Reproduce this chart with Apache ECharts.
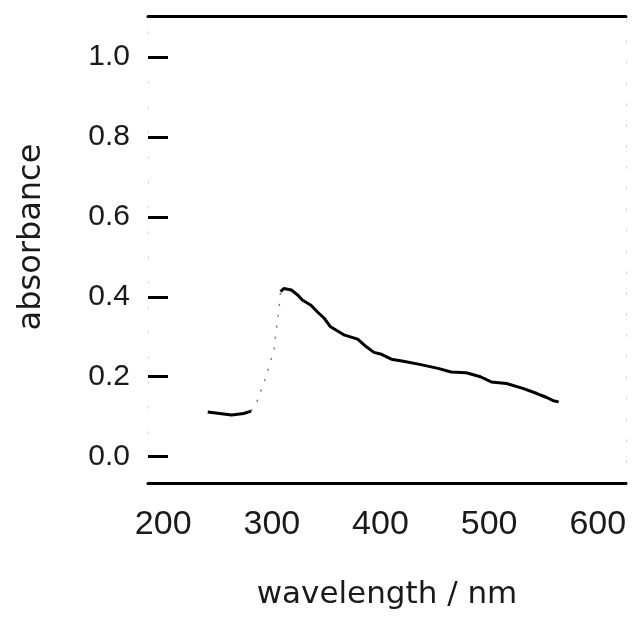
<!DOCTYPE html>
<html>
<head>
<meta charset="utf-8">
<script src="https://cdn.jsdelivr.net/npm/echarts@6/dist/echarts.min.js"></script>
<style>html,body{margin:0;padding:0;background:#fff}#c{width:637px;height:621px}</style>
</head>
<body>
<div id="c"></div>
<script>
// Tick labels
var xTicks = [200, 300, 400, 500, 600];
var yTicks = [0.0, 0.2, 0.4, 0.6, 0.8, 1.0];

// Low plateau segment (solid)
var lowWl  = [241, 252, 263, 274, 281];
var lowAbs = [0.112, 0.108, 0.104, 0.108, 0.114];

// Steep rise (faint, dotted in the scan)
var riseWl  = [281, 286, 289, 293, 296, 302, 307, 308];
var riseAbs = [0.114, 0.135, 0.158, 0.187, 0.212, 0.269, 0.383, 0.413];

// Peak and decay segment (solid)
var peakWl  = [308, 311, 318, 324, 328, 336, 342, 348, 354, 367, 379, 387, 394, 400, 410, 421, 436, 453, 465, 479, 492, 502, 516, 531, 544, 553, 559, 564];
var peakAbs = [0.413, 0.421, 0.417, 0.404, 0.392, 0.379, 0.362, 0.347, 0.325, 0.304, 0.294, 0.275, 0.261, 0.257, 0.244, 0.239, 0.231, 0.221, 0.212, 0.210, 0.200, 0.187, 0.183, 0.171, 0.158, 0.148, 0.140, 0.137];

function pairs(xs, ys) { return xs.map(function (x, i) { return [x, ys[i]]; }); }

var chart = echarts.init(document.getElementById('c'), null, {renderer: 'canvas'});
var tickFont = 'Liberation Sans';
var nameFont = 'DejaVu Sans';
chart.setOption({
  backgroundColor: '#ffffff',
  animation: false,
  grid: {left: 148, right: 11, top: 16, bottom: 138, containLabel: false},
  xAxis: [{
    type: 'value', position: 'bottom', min: 186, max: 626,
    splitLine: {show: false},
    axisLine: {show: true, onZero: false, lineStyle: {color: '#000', width: 3}},
    axisTick: {show: false},
    axisLabel: {show: true, customValues: xTicks, margin: 25, color: '#1a1a1a',
      fontFamily: tickFont, fontSize: 34, formatter: function (v) { return String(v); }},
    name: 'wavelength / nm', nameLocation: 'middle', nameGap: 96,
    nameTextStyle: {color: '#1a1a1a', fontFamily: nameFont, fontSize: 31}
  }, {
    type: 'value', position: 'top', min: 186, max: 626,
    splitLine: {show: false},
    axisLine: {show: true, onZero: false, lineStyle: {color: '#000', width: 3}},
    axisTick: {show: false}, axisLabel: {show: false}
  }],
  yAxis: [{
    type: 'value', position: 'left', min: -0.066, max: 1.103,
    splitLine: {show: false},
    axisLine: {show: true, onZero: false, lineStyle: {color: '#c8c8c8', width: 1, type: [1, 24]}},
    axisTick: {show: true, inside: true, length: 20, customValues: yTicks,
      lineStyle: {color: '#000', width: 3}},
    axisLabel: {show: true, customValues: yTicks, margin: 18, color: '#1a1a1a',
      fontFamily: tickFont, fontSize: 30, formatter: function (v) { return v.toFixed(1); }}
  }, {
    type: 'value', position: 'right', min: -0.066, max: 1.103,
    splitLine: {show: false},
    axisLine: {show: true, onZero: false, lineStyle: {color: '#c8c8c8', width: 1, type: [1, 20]}},
    axisTick: {show: false}, axisLabel: {show: false}
  }],
  graphic: [{
    type: 'text', x: 32, y: 237, rotation: Math.PI / 2,
    style: {text: 'absorbance', fill: '#1a1a1a', font: '32px "DejaVu Sans"',
      align: 'center', verticalAlign: 'middle'}
  }],
  series: [{
    type: 'line', data: pairs(lowWl, lowAbs), showSymbol: false, smooth: false,
    lineStyle: {color: '#000', width: 3}
  }, {
    type: 'line', data: pairs(riseWl, riseAbs), showSymbol: false, smooth: false,
    lineStyle: {color: '#777', width: 1.5, type: [2, 9]}
  }, {
    type: 'line', data: pairs(peakWl, peakAbs), showSymbol: false, smooth: false,
    lineStyle: {color: '#000', width: 3}
  }]
});
</script>
</body>
</html>
